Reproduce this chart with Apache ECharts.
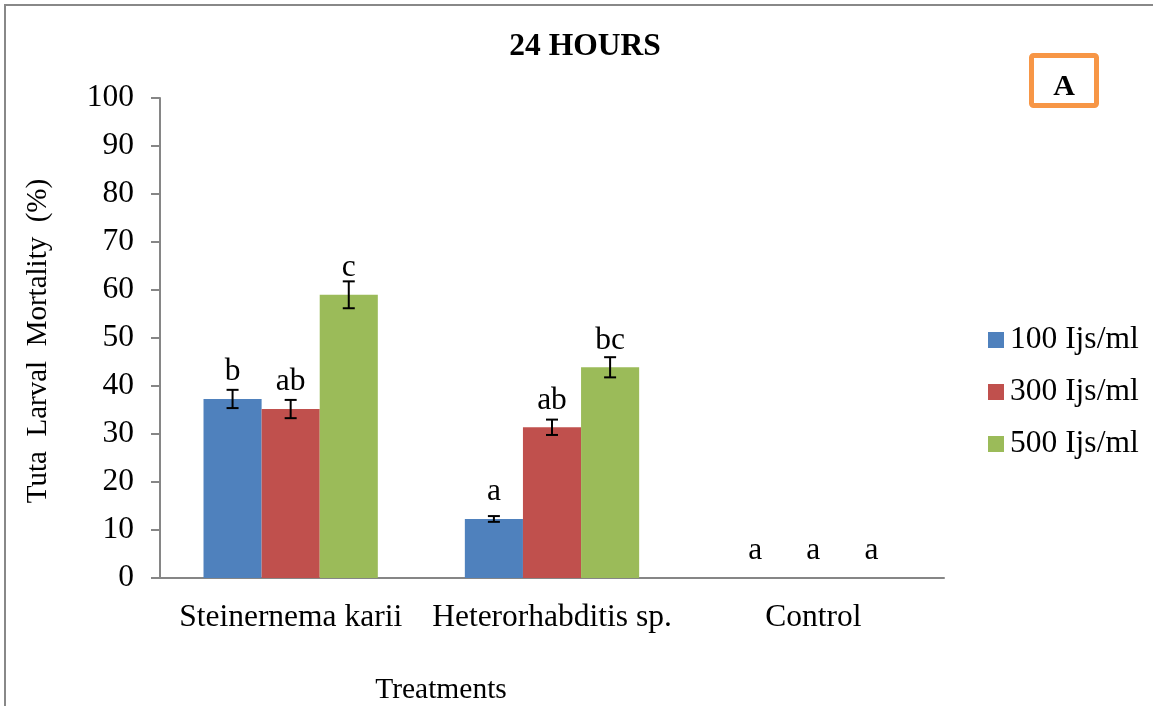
<!DOCTYPE html>
<html>
<head>
<meta charset="utf-8">
<script src="https://cdn.jsdelivr.net/npm/echarts@6/dist/echarts.min.js"></script>
<style>html,body{margin:0;padding:0;background:#fff;}#c{width:1153px;height:706px;}</style>
</head>
<body>
<div id="c"></div>
<script>
var categories = ['Steinernema karii', 'Heterorhabditis sp.', 'Control'];
var seriesNames = ['100 Ijs/ml', '300 Ijs/ml', '500 Ijs/ml'];
var values100 = [37.3, 12.3, 0];
var values300 = [35.2, 31.4, 0];
var values500 = [59.0, 43.9, 0];
var err100 = [1.9, 0.6, 0];
var err300 = [1.9, 1.6, 0];
var err500 = [2.8, 2.1, 0];
var letters100 = ['b', 'a', 'a'];
var letters300 = ['ab', 'ab', 'a'];
var letters500 = ['c', 'bc', 'a'];
var yTicks = [0, 10, 20, 30, 40, 50, 60, 70, 80, 90, 100];

var FONT = 'Liberation Serif';
var FS = 31.5;
var colors = ['#4F81BD', '#C0504D', '#9BBB59'];
var allValues = [values100, values300, values500];
var allErr = [err100, err300, err500];
var allLetters = [letters100, letters300, letters500];
var GAP = 0.333;

var series = [];
allValues.forEach(function (vals, si) {
  series.push({
    name: seriesNames[si],
    type: 'bar',
    data: vals,
    barGap: 0,
    barCategoryGap: '33.3%',
    itemStyle: { color: colors[si] },
    label: {
      show: true, position: 'top', distance: 11,
      fontFamily: FONT, fontSize: FS, color: '#000',
      formatter: function (p) { return allLetters[si][p.dataIndex]; }
    }
  });
});
allErr.forEach(function (errs, si) {
  var vals = allValues[si];
  series.push({
    type: 'custom',
    silent: true,
    z: 5,
    data: vals.map(function (v, i) { return [i, v, errs[i]]; }),
    encode: { x: 0, y: 1 },
    renderItem: function (params, api) {
      var e = api.value(2);
      if (!e) return null;
      var ci = api.value(0), v = api.value(1);
      var band = api.size([1, 0])[0];
      var bw = band * (1 - GAP) / 3;
      var c = api.coord([ci, v]);
      var x = c[0] + (si - 1) * bw;
      var top = api.coord([ci, v + e])[1];
      var bot = api.coord([ci, v - e])[1];
      var hw = 6;
      var st = { stroke: '#000', lineWidth: 2 };
      return {
        type: 'group',
        children: [
          { type: 'line', shape: { x1: x, y1: top, x2: x, y2: bot }, style: st },
          { type: 'line', shape: { x1: x - hw, y1: top, x2: x + hw, y2: top }, style: st },
          { type: 'line', shape: { x1: x - hw, y1: bot, x2: x + hw, y2: bot }, style: st }
        ]
      };
    }
  });
});

var chart = echarts.init(document.getElementById('c'));
chart.setOption({
  animation: false,
  backgroundColor: '#fff',
  grid: { left: 160, right: 209, top: 98, bottom: 128 },
  legend: {
    orient: 'vertical',
    left: 983, top: 319,
    itemWidth: 16, itemHeight: 16, itemGap: 20,
    icon: 'rect',
    data: seriesNames,
    textStyle: { fontFamily: FONT, fontSize: FS, color: '#000', lineHeight: 30, padding: [0, 0, 0, 1] }
  },
  xAxis: {
    type: 'category',
    data: categories,
    axisLine: { lineStyle: { color: '#868686', width: 2 } },
    axisTick: { length: 9, lineStyle: { color: '#868686', width: 2 } },
    axisLabel: { fontFamily: FONT, fontSize: FS, color: '#000', margin: 24, interval: 0 }
  },
  yAxis: {
    type: 'value', min: 0, max: 100, interval: 10,
    axisLine: { show: true, lineStyle: { color: '#868686', width: 2 } },
    axisTick: { show: true, length: 9, lineStyle: { color: '#868686', width: 2 } },
    splitLine: { show: false },
    axisLabel: {
      fontFamily: FONT, fontSize: FS, color: '#000', margin: 26,
      customValues: yTicks
    }
  },
  graphic: [
    { type: 'line', shape: { x1: 4, y1: 5, x2: 1153, y2: 5 }, style: { stroke: '#888', lineWidth: 2 } },
    { type: 'line', shape: { x1: 5, y1: 5, x2: 5, y2: 706 }, style: { stroke: '#888', lineWidth: 2 } },
    { type: 'text', x: 585, y: 47, style: { text: '24 HOURS', fontFamily: FONT, fontSize: FS, fontWeight: 'bold', fill: '#000', align: 'center', verticalAlign: 'middle' } },
    { type: 'rect', shape: { x: 1031.5, y: 55.5, width: 65, height: 50, r: 2 }, style: { fill: '#fff', stroke: '#F79646', lineWidth: 5 } },
    { type: 'text', x: 1064, y: 87, style: { text: 'A', fontFamily: FONT, fontSize: 30, fontWeight: 'bold', fill: '#000', align: 'center', verticalAlign: 'middle' } },
    { type: 'text', x: 38, y: 341, rotation: Math.PI / 2, style: { text: 'Tuta  Larval  Mortality  (%)', fontFamily: FONT, fontSize: 29, fill: '#000', align: 'center', verticalAlign: 'middle' } },
    { type: 'text', x: 441, y: 690, style: { text: 'Treatments', fontFamily: FONT, fontSize: 29.5, fill: '#000', align: 'center', verticalAlign: 'middle' } }
  ],
  series: series
});
</script>
</body>
</html>
